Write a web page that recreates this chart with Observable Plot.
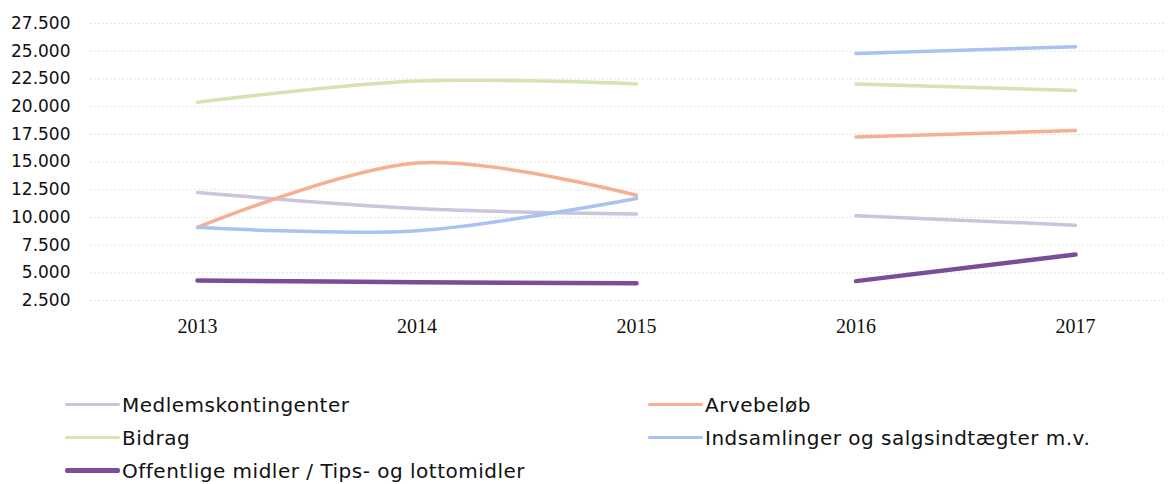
<!DOCTYPE html>
<html>
<head>
<meta charset="utf-8">
<script src="https://cdn.jsdelivr.net/npm/d3@7"></script>
<script src="https://cdn.jsdelivr.net/npm/@observablehq/plot@0.6"></script>
<style>
  html, body { margin: 0; padding: 0; background: #fff; }
  #wrap { position: relative; width: 1172px; height: 484px; overflow: hidden; }
  #chart { position: absolute; left: 0; top: 0; }
  #legend {
    position: absolute; left: 65px; top: 388px;
    display: grid; grid-template-columns: 583px auto; grid-auto-rows: 33px;
    font-family: "DejaVu Sans", sans-serif; font-size: 20px; letter-spacing: 0.5px; color: #111;
  }
  .item { display: flex; align-items: center; white-space: nowrap; }
  .sw { display: inline-block; width: 55px; margin-right: 2px; border-radius: 2px; }
</style>
</head>
<body>
<div id="wrap">
  <div id="chart"></div>
  <div id="legend"></div>
</div>
<script>
// ---- data ----
const years = [2013, 2014, 2015, 2016, 2017];
const period = ["A", "A", "A", "B", "B"]; // no data linking 2015 and 2016
const seriesNames = [
  "Medlemskontingenter",
  "Arvebeløb",
  "Bidrag",
  "Indsamlinger og salgsindtægter m.v.",
  "Offentlige midler / Tips- og lottomidler"
];
const medlemskontingenter = [12250, 10800, 10300, 10150, 9300];
const arvebelob = [9100, 14900, 12000, 17250, 17850];
const bidrag = [20400, 22300, 22050, 22050, 21450];
const indsamlinger = [9100, 8800, 11700, 24800, 25400];
const offentlige = [4300, 4150, 4050, 4250, 6650];
const yTicks = [2500, 5000, 7500, 10000, 12500, 15000, 17500, 20000, 22500, 25000, 27500];

// ---- styles ----
const seriesColors = ["#c9c5dc", "#f5b093", "#d4e5b2", "#a9c2ef", "#7b4c98"];
const seriesWidths = [3.5, 3.5, 3.5, 3.5, 4.5];

const allValues = [medlemskontingenter, arvebelob, bidrag, indsamlinger, offentlige];
const rows = [];
seriesNames.forEach((name, i) => {
  years.forEach((yr, j) => {
    rows.push({series: name, year: yr, value: allValues[i][j], seg: name + "|" + period[j], idx: i});
  });
});

const fmt = d => d3.format(",")(d).replace(/,/g, ".");

const plot = Plot.plot({
  width: 1172,
  height: 345,
  marginLeft: 90,
  marginRight: 7,
  marginTop: 10,
  marginBottom: 45,
  x: {type: "linear", domain: [2013, 2017], range: [197, 1075]},
  y: {domain: [2500, 27500], range: [300, 23]},
  color: {domain: seriesNames, range: seriesColors},
  style: {background: "transparent"},
  marks: [
    Plot.ruleY(yTicks, {stroke: "#b8b8b8", strokeOpacity: 0.55, strokeDasharray: "1.5,2.5"}),
    Plot.axisY({ticks: yTicks, tickFormat: fmt, tickSize: 0, tickPadding: 20, label: null,
      fontSize: 17, fontFamily: "DejaVu Sans", fill: "#111"}),
    Plot.axisX({ticks: years, tickFormat: d => String(d), tickSize: 0, tickPadding: 18, label: null,
      fontSize: 20, fontFamily: "Liberation Serif", fill: "#111"}),
    ...seriesNames.map((name, i) =>
      Plot.line(rows.filter(r => r.idx === i), {
        x: "year", y: "value", z: "seg", stroke: "series",
        strokeWidth: seriesWidths[i], curve: "cardinal", strokeLinecap: "round"
      }))
  ]
});
document.getElementById("chart").appendChild(plot);

// ---- legend ----
const legend = document.getElementById("legend");
seriesNames.forEach((name, i) => {
  const item = document.createElement("div");
  item.className = "item";
  const sw = document.createElement("span");
  sw.className = "sw";
  sw.style.background = seriesColors[i];
  sw.style.height = seriesWidths[i] + "px";
  item.appendChild(sw);
  const t = document.createElement("span");
  t.textContent = name;
  item.appendChild(t);
  legend.appendChild(item);
});
</script>
</body>
</html>
